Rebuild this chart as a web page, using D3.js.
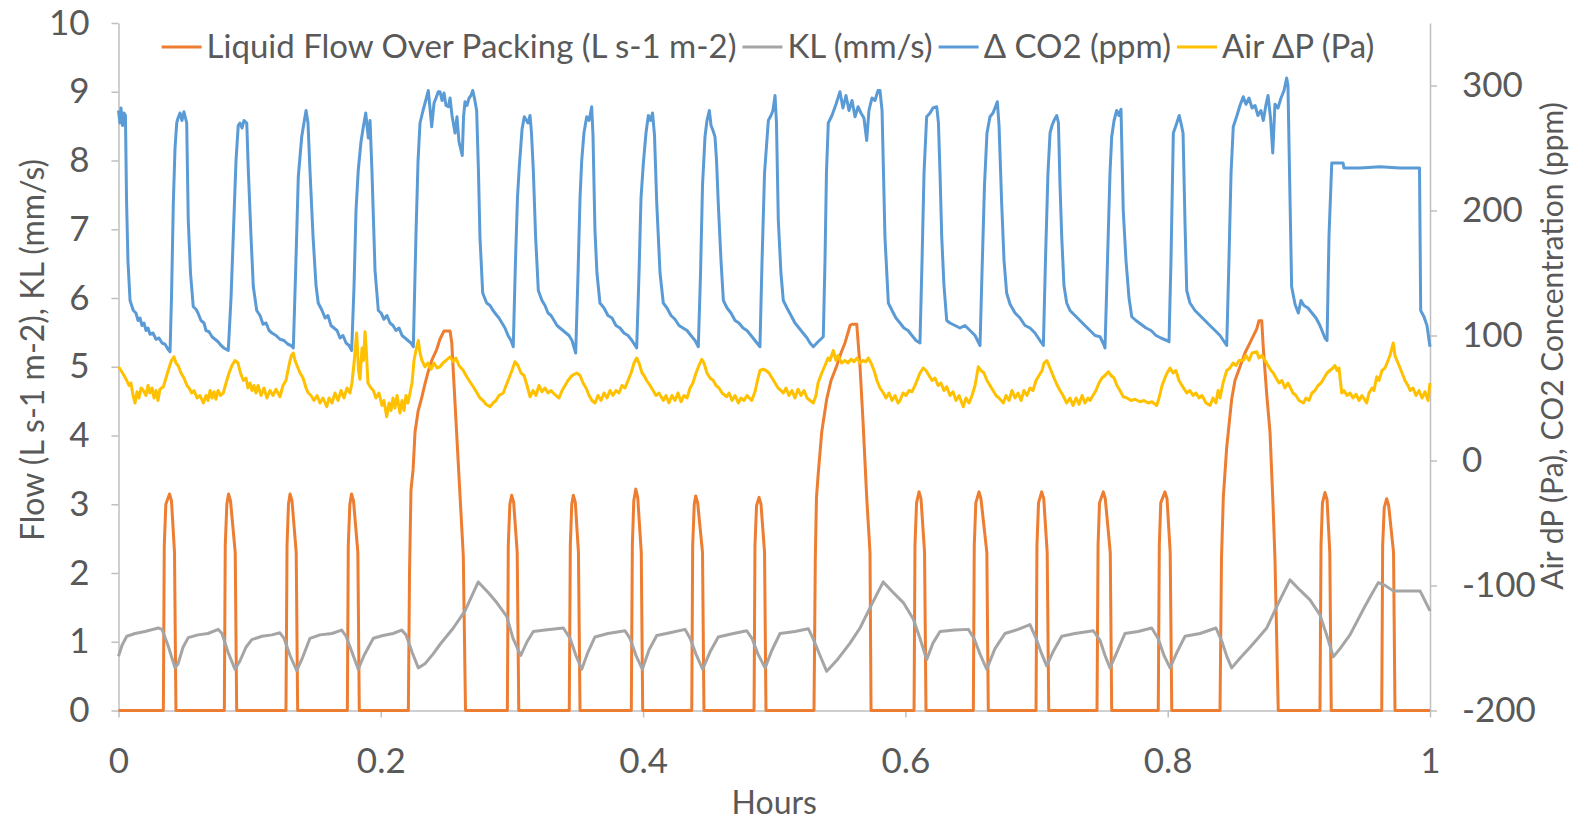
<!DOCTYPE html>
<html>
<head>
<meta charset="utf-8">
<script src="https://cdn.jsdelivr.net/npm/d3@7"></script>
<style>
    body { margin: 0; background: #fff; }
    svg text { font-family: Lato, "Open Sans", sans-serif; fill: #595959; }
</style>
</head>
<body>
<svg id="chart" width="1573" height="823"></svg>
<script>
//series names (legend order)
var seriesNames = ['Liquid Flow Over Packing (L s-1 m-2)', 'KL (mm/s)',
    '\u0394 CO2 (ppm)', 'Air \u0394P (Pa)'];

//ticks
var xTicks = [0, 0.2, 0.4, 0.6, 0.8, 1];
var leftTicks = [0, 1, 2, 3, 4, 5, 6, 7, 8, 9, 10];
var rightTicks = [-200, -100, 0, 100, 200, 300];

//liquid flow over packing, [hours, L s-1 m-2]
var flowData = [
    [0, 0],
    [0.0342, 0], [0.0349, 2.4], [0.0361, 3.0], [0.0389, 3.15], [0.0404, 3.05], [0.0427, 2.3], [0.0438, 0],
    [0.0807, 0], [0.0814, 2.4], [0.0826, 3.0], [0.0839, 3.15], [0.0854, 3.05], [0.0890, 2.3], [0.0901, 0],
    [0.1277, 0], [0.1285, 2.4], [0.1296, 3.0], [0.1308, 3.15], [0.1323, 3.05], [0.1355, 2.3], [0.1366, 0],
    [0.1745, 0], [0.1752, 2.4], [0.1764, 3.0], [0.1777, 3.15], [0.1792, 3.05], [0.1825, 2.3], [0.1836, 0],
    [0.2210, 0], [0.2219, 2.0], [0.2230, 3.2], [0.2246, 3.5], [0.2261, 4.05], [0.2284, 4.35], [0.2312, 4.55],
    [0.2337, 4.75], [0.2360, 4.92], [0.2390, 5.1], [0.2426, 5.25], [0.2451, 5.4], [0.2482, 5.52],
    [0.2528, 5.52], [0.2541, 5.35], [0.2629, 2.25], [0.2646, 0],
    [0.2965, 0], [0.2972, 2.4], [0.2984, 3.0], [0.2998, 3.13], [0.3013, 3.03], [0.3040, 2.3], [0.3052, 0],
    [0.3437, 0], [0.3445, 2.4], [0.3456, 3.0], [0.3468, 3.13], [0.3483, 3.03], [0.3507, 2.3], [0.3519, 0],
    [0.3910, 0], [0.3918, 2.4], [0.3929, 3.05], [0.3944, 3.22], [0.3959, 3.1], [0.3986, 2.3], [0.3997, 0],
    [0.4371, 0], [0.4378, 2.4], [0.4390, 3.0], [0.4401, 3.12], [0.4416, 3.02], [0.4453, 2.3], [0.4464, 0],
    [0.4846, 0], [0.4853, 2.4], [0.4865, 2.98], [0.4884, 3.10], [0.4899, 3.0], [0.4926, 2.3], [0.4937, 0],
    [0.5303, 0], [0.5313, 2.2], [0.5322, 3.1], [0.5336, 3.46], [0.5362, 4.05], [0.5400, 4.53], [0.5433, 4.8],
    [0.5476, 5.01], [0.5509, 5.2], [0.5540, 5.35], [0.5578, 5.6], [0.5593, 5.62], [0.5629, 5.62],
    [0.5654, 5.0], [0.5677, 4.2], [0.5705, 3.1], [0.5730, 2.3], [0.5738, 0],
    [0.6066, 0], [0.6073, 2.4], [0.6085, 3.02], [0.6104, 3.18], [0.6119, 3.08], [0.6146, 2.3], [0.6157, 0],
    [0.6518, 0], [0.6525, 2.4], [0.6537, 3.02], [0.6561, 3.18], [0.6576, 3.08], [0.6621, 2.3], [0.6632, 0],
    [0.6996, 0], [0.7003, 2.4], [0.7015, 3.02], [0.7039, 3.18], [0.7055, 3.08], [0.7081, 2.3], [0.7093, 0],
    [0.7461, 0], [0.7469, 2.4], [0.7480, 3.02], [0.7509, 3.18], [0.7524, 3.08], [0.7562, 2.3], [0.7573, 0],
    [0.7928, 0], [0.7936, 2.4], [0.7947, 3.02], [0.7979, 3.18], [0.7995, 3.08], [0.8019, 2.3], [0.8031, 0],
    [0.8399, 0], [0.8410, 2.2], [0.8424, 3.1], [0.8450, 3.83], [0.8488, 4.53], [0.8513, 4.8], [0.8551, 5.0],
    [0.8589, 5.2], [0.8628, 5.35], [0.8679, 5.55], [0.8696, 5.67], [0.8717, 5.67], [0.8729, 5.27],
    [0.8755, 4.6], [0.8780, 4.05], [0.8803, 3.0], [0.8818, 2.2], [0.8843, 0],
    [0.9161, 0], [0.9169, 2.4], [0.9180, 3.02], [0.9199, 3.17], [0.9215, 3.07], [0.9236, 2.3], [0.9247, 0],
    [0.9632, 0], [0.9639, 2.4], [0.9651, 2.95], [0.9670, 3.08], [0.9685, 2.98], [0.9722, 2.3], [0.9733, 0],
    [1, 0]
];

//KL, [hours, mm/s]
var klData = [
    [0, 0.79], [0.0027, 0.95], [0.0063, 1.08], [0.0126, 1.12], [0.0202, 1.15], [0.0303, 1.2], [0.0332, 1.18],
    [0.0377, 0.95], [0.0431, 0.62], [0.0454, 0.68], [0.0492, 0.92], [0.0532, 1.06], [0.0606, 1.1],
    [0.0682, 1.12], [0.0761, 1.18], [0.0789, 1.12], [0.0835, 0.85], [0.0888, 0.6], [0.0926, 0.72],
    [0.0972, 0.92], [0.1016, 1.03], [0.1094, 1.08], [0.1170, 1.1], [0.1231, 1.13], [0.1262, 1.05],
    [0.1308, 0.8], [0.1359, 0.58], [0.1399, 0.75], [0.1460, 1.05], [0.1536, 1.1], [0.1628, 1.12],
    [0.1702, 1.17], [0.1735, 1.08], [0.1780, 0.85], [0.1828, 0.6], [0.1872, 0.8], [0.1943, 1.05],
    [0.2017, 1.09], [0.2093, 1.12], [0.2159, 1.17], [0.2192, 1.1], [0.2238, 0.85], [0.2286, 0.62],
    [0.2337, 0.68], [0.2398, 0.82], [0.2451, 0.96], [0.2553, 1.2], [0.2642, 1.45], [0.2743, 1.87],
    [0.2817, 1.72], [0.2884, 1.57], [0.2960, 1.37], [0.3008, 1.05], [0.3067, 0.8], [0.3115, 1.0],
    [0.3163, 1.15], [0.3252, 1.17], [0.3392, 1.2], [0.3443, 1.05], [0.3488, 0.8], [0.3532, 0.6],
    [0.3580, 0.85], [0.3633, 1.07], [0.3732, 1.12], [0.3862, 1.16], [0.3900, 1.05], [0.3946, 0.8],
    [0.3994, 0.6], [0.4045, 0.88], [0.4104, 1.09], [0.4205, 1.13], [0.4320, 1.18], [0.4358, 1.05],
    [0.4403, 0.82], [0.4454, 0.6], [0.4510, 0.85], [0.4573, 1.07], [0.4663, 1.11], [0.4790, 1.16],
    [0.4830, 1.05], [0.4876, 0.82], [0.4930, 0.62], [0.4983, 0.88], [0.5044, 1.12], [0.5158, 1.15],
    [0.5260, 1.19], [0.5295, 1.05], [0.5349, 0.8], [0.5400, 0.57], [0.5486, 0.75], [0.5578, 0.98],
    [0.5654, 1.2], [0.5745, 1.55], [0.5831, 1.87], [0.5905, 1.72], [0.5984, 1.57], [0.6060, 1.33],
    [0.6111, 1.05], [0.6162, 0.74], [0.6210, 0.98], [0.6264, 1.15], [0.6378, 1.17], [0.6480, 1.18],
    [0.6523, 1.05], [0.6569, 0.82], [0.6620, 0.6], [0.6683, 0.9], [0.6759, 1.12], [0.6859, 1.18],
    [0.6950, 1.25], [0.6996, 1.05], [0.7034, 0.85], [0.7077, 0.65], [0.7125, 0.85], [0.7192, 1.08],
    [0.7293, 1.12], [0.7433, 1.16], [0.7484, 1.02], [0.7522, 0.8], [0.7560, 0.62], [0.7613, 0.85],
    [0.7674, 1.12], [0.7774, 1.15], [0.7878, 1.2], [0.7926, 1.05], [0.7972, 0.8], [0.8018, 0.62],
    [0.8071, 0.85], [0.8132, 1.08], [0.8246, 1.12], [0.8368, 1.2], [0.8414, 1.0], [0.8452, 0.78],
    [0.8488, 0.62], [0.8551, 0.76], [0.8628, 0.92], [0.8688, 1.05], [0.8755, 1.2], [0.8841, 1.55],
    [0.8932, 1.9], [0.9009, 1.75], [0.9085, 1.61], [0.9161, 1.39], [0.9215, 1.08], [0.9263, 0.78],
    [0.9314, 0.9], [0.9390, 1.1], [0.9491, 1.47], [0.9543, 1.65], [0.9606, 1.86], [0.9657, 1.82],
    [0.9720, 1.74], [0.9809, 1.74], [0.9924, 1.74], [1, 1.45]
];

//delta CO2, [hours, ppm]
var co2Data = [
    [0, 280], [0.0011, 270], [0.0019, 282], [0.0031, 268], [0.0042, 278], [0.0053, 276], [0.0061, 210],
    [0.0072, 160], [0.0088, 128], [0.0113, 120], [0.0133, 118], [0.0149, 112], [0.0164, 114], [0.0179, 108],
    [0.0194, 110], [0.0210, 104], [0.0225, 106], [0.0240, 101], [0.0263, 102], [0.0286, 97], [0.0309, 98],
    [0.0332, 94], [0.0355, 93], [0.0377, 89], [0.0393, 87],
    [0.0404, 130], [0.0418, 206], [0.0431, 250], [0.0444, 270], [0.0454, 274], [0.0469, 278], [0.0484, 272],
    [0.0499, 279], [0.0520, 270], [0.0532, 192], [0.0549, 150], [0.0570, 123], [0.0591, 121], [0.0606, 118],
    [0.0629, 112], [0.0652, 110], [0.0667, 104], [0.0690, 103], [0.0713, 99], [0.0736, 97], [0.0759, 95],
    [0.0782, 92], [0.0804, 90], [0.0837, 88],
    [0.0858, 130], [0.0875, 179], [0.0896, 240], [0.0913, 268], [0.0926, 270], [0.0942, 266], [0.0957, 272],
    [0.0978, 270], [0.0990, 232], [0.1010, 180], [0.1028, 139], [0.1054, 120], [0.1079, 116], [0.1102, 109],
    [0.1125, 110], [0.1148, 104], [0.1170, 102], [0.1201, 100], [0.1231, 97], [0.1262, 96], [0.1292, 93],
    [0.1315, 92], [0.1333, 90],
    [0.1353, 160], [0.1371, 227], [0.1397, 259], [0.1414, 270], [0.1430, 280], [0.1445, 270], [0.1460, 232],
    [0.1483, 180], [0.1506, 140], [0.1523, 126], [0.1552, 120], [0.1575, 114], [0.1597, 116], [0.1620, 108],
    [0.1643, 106], [0.1666, 104], [0.1689, 98], [0.1712, 100], [0.1735, 94], [0.1758, 92], [0.1778, 88],
    [0.1796, 140], [0.1811, 200], [0.1828, 232], [0.1849, 255], [0.1867, 267], [0.1885, 278], [0.1895, 268],
    [0.1905, 258], [0.1918, 272], [0.1933, 230], [0.1956, 152], [0.1981, 120], [0.2002, 118], [0.2024, 113],
    [0.2047, 116], [0.2070, 110], [0.2093, 108], [0.2116, 104], [0.2139, 106], [0.2162, 100], [0.2185, 98],
    [0.2207, 96], [0.2230, 94], [0.2248, 91],
    [0.2268, 180], [0.2284, 240], [0.2299, 270], [0.2322, 280], [0.2345, 289], [0.2362, 296], [0.2375, 282],
    [0.2388, 267], [0.2406, 286], [0.2421, 290], [0.2438, 295], [0.2451, 295], [0.2467, 288], [0.2482, 294],
    [0.2497, 284], [0.2515, 283], [0.2528, 290], [0.2543, 276], [0.2566, 262], [0.2581, 275], [0.2596, 255],
    [0.2621, 244], [0.2631, 275], [0.2642, 287], [0.2657, 284], [0.2673, 290], [0.2688, 292], [0.2701, 296],
    [0.2714, 290], [0.2731, 280], [0.2745, 230], [0.2756, 179], [0.2777, 134], [0.2807, 126], [0.2833, 124],
    [0.2856, 120], [0.2878, 117], [0.2901, 114], [0.2924, 110], [0.2947, 106], [0.2970, 100], [0.2993, 96],
    [0.3010, 91],
    [0.3027, 160], [0.3042, 210], [0.3056, 235], [0.3077, 265], [0.3094, 275], [0.3111, 272], [0.3122, 270],
    [0.3138, 276], [0.3149, 262], [0.3163, 232], [0.3180, 180], [0.3201, 136], [0.3229, 128], [0.3252, 124],
    [0.3275, 118], [0.3298, 116], [0.3321, 112], [0.3344, 108], [0.3366, 106], [0.3389, 104], [0.3412, 102],
    [0.3435, 100], [0.3458, 96], [0.3486, 86],
    [0.3504, 150], [0.3519, 210], [0.3532, 240], [0.3549, 262], [0.3570, 275], [0.3588, 272], [0.3608, 283],
    [0.3618, 260], [0.3633, 184], [0.3648, 150], [0.3671, 126], [0.3702, 122], [0.3732, 116], [0.3763, 114],
    [0.3793, 108], [0.3824, 106], [0.3854, 102], [0.3885, 100], [0.3915, 96], [0.3951, 90],
    [0.3969, 150], [0.3984, 210], [0.4002, 238], [0.4022, 262], [0.4040, 276], [0.4056, 272], [0.4072, 278],
    [0.4087, 260], [0.4104, 206], [0.4129, 150], [0.4154, 126], [0.4182, 122], [0.4213, 116], [0.4243, 113],
    [0.4274, 108], [0.4304, 106], [0.4335, 104], [0.4365, 100], [0.4396, 96], [0.4421, 91],
    [0.4438, 150], [0.4453, 220], [0.4472, 259], [0.4487, 272], [0.4505, 280], [0.4518, 268], [0.4533, 264],
    [0.4548, 259], [0.4560, 240], [0.4573, 206], [0.4594, 160], [0.4612, 128], [0.4640, 122], [0.4670, 118],
    [0.4701, 112], [0.4731, 110], [0.4762, 106], [0.4792, 104], [0.4823, 100], [0.4853, 96], [0.4891, 91],
    [0.4907, 160], [0.4926, 230], [0.4955, 272], [0.4975, 276], [0.4990, 280], [0.5006, 292], [0.5017, 270],
    [0.5031, 192], [0.5051, 150], [0.5069, 128], [0.5097, 122], [0.5128, 116], [0.5158, 110], [0.5189, 106],
    [0.5219, 102], [0.5250, 98], [0.5273, 94], [0.5298, 91], [0.5334, 95], [0.5374, 99],
    [0.5387, 160], [0.5398, 230], [0.5412, 270], [0.5440, 276], [0.5471, 285], [0.5501, 295], [0.5524, 282],
    [0.5547, 292], [0.5570, 280], [0.5593, 288], [0.5616, 275], [0.5639, 283], [0.5661, 278], [0.5684, 274],
    [0.5705, 256], [0.5722, 280], [0.5745, 290], [0.5768, 288], [0.5791, 296], [0.5806, 296], [0.5822, 280],
    [0.5833, 230], [0.5844, 179], [0.5870, 126], [0.5898, 120], [0.5928, 114], [0.5959, 110], [0.5989, 106],
    [0.6020, 104], [0.6050, 100], [0.6081, 96], [0.6111, 94],
    [0.6127, 160], [0.6142, 230], [0.6162, 275], [0.6188, 278], [0.6210, 282], [0.6239, 283], [0.6252, 270],
    [0.6264, 230], [0.6277, 179], [0.6294, 140], [0.6315, 112], [0.6340, 110], [0.6378, 108], [0.6416, 106],
    [0.6454, 108], [0.6493, 104], [0.6531, 100], [0.6569, 92],
    [0.6584, 150], [0.6603, 220], [0.6622, 262], [0.6645, 275], [0.6668, 278], [0.6683, 282], [0.6701, 287],
    [0.6714, 268], [0.6734, 206], [0.6752, 160], [0.6772, 134], [0.6798, 125], [0.6836, 118], [0.6874, 114],
    [0.6912, 108], [0.6950, 106], [0.6988, 102], [0.7026, 96], [0.7052, 92],
    [0.7068, 160], [0.7087, 230], [0.7103, 262], [0.7118, 268], [0.7133, 272], [0.7154, 276], [0.7167, 270],
    [0.7179, 220], [0.7192, 179], [0.7209, 140], [0.7230, 126], [0.7255, 120], [0.7293, 116], [0.7331, 112],
    [0.7369, 108], [0.7408, 104], [0.7446, 100], [0.7484, 99], [0.7507, 94], [0.7522, 90],
    [0.7541, 160], [0.7560, 230], [0.7573, 259], [0.7591, 272], [0.7611, 280], [0.7629, 276], [0.7644, 281],
    [0.7661, 200], [0.7682, 160], [0.7705, 130], [0.7726, 115], [0.7758, 112], [0.7796, 109], [0.7835, 106],
    [0.7873, 104], [0.7911, 100], [0.7949, 98], [0.7993, 96], [0.8010, 95],
    [0.8025, 160], [0.8043, 262], [0.8063, 268], [0.8088, 276], [0.8101, 270], [0.8117, 262], [0.8132, 190],
    [0.8145, 136], [0.8170, 126], [0.8208, 120], [0.8246, 116], [0.8284, 112], [0.8322, 108], [0.8361, 104],
    [0.8399, 100], [0.8450, 92],
    [0.8467, 160], [0.8483, 230], [0.8500, 267], [0.8528, 276], [0.8551, 284], [0.8576, 291], [0.8597, 285],
    [0.8620, 290], [0.8643, 282], [0.8666, 284], [0.8688, 276], [0.8711, 280], [0.8729, 272], [0.8750, 285],
    [0.8765, 292], [0.8784, 274], [0.8801, 246], [0.8818, 285], [0.8841, 282], [0.8864, 290], [0.8887, 296],
    [0.8907, 306], [0.8917, 300], [0.8929, 230], [0.8945, 139], [0.8971, 125], [0.8996, 118], [0.9016, 128],
    [0.9039, 124], [0.9070, 122], [0.9100, 118], [0.9131, 114], [0.9161, 108], [0.9199, 98], [0.9215, 96],
    [0.9230, 180], [0.9251, 238], [0.9337, 238], [0.9344, 234], [0.9466, 234], [0.9619, 235], [0.9771, 234],
    [0.9920, 234], [0.9929, 120], [0.9954, 115], [0.9977, 108], [1, 91]
];

//air pressure drop, [hours, Pa]
var airDpData = [
    [0, 75], [0.0019, 72], [0.0042, 68], [0.0063, 64], [0.0080, 60], [0.0095, 62], [0.0111, 52], [0.0126, 46],
    [0.0141, 55], [0.0156, 50], [0.0172, 58], [0.0189, 56], [0.0210, 52], [0.0225, 60], [0.0240, 54],
    [0.0255, 58], [0.0271, 50], [0.0286, 56], [0.0301, 48], [0.0316, 57], [0.0342, 59], [0.0362, 66],
    [0.0385, 74], [0.0404, 80], [0.0423, 83], [0.0438, 78], [0.0454, 76], [0.0477, 70], [0.0499, 66],
    [0.0522, 60], [0.0538, 58], [0.0558, 54], [0.0576, 56], [0.0599, 50], [0.0621, 52], [0.0647, 46],
    [0.0667, 52], [0.0682, 48], [0.0698, 56], [0.0713, 50], [0.0728, 55], [0.0743, 49], [0.0759, 56],
    [0.0778, 52], [0.0799, 54], [0.0820, 62], [0.0843, 70], [0.0865, 76], [0.0888, 80], [0.0911, 78],
    [0.0930, 70], [0.0952, 64], [0.0972, 66], [0.0987, 58], [0.1003, 62], [0.1018, 56], [0.1033, 60],
    [0.1048, 54], [0.1064, 60], [0.1087, 52], [0.1109, 58], [0.1132, 50], [0.1155, 56], [0.1178, 52],
    [0.1201, 57], [0.1231, 51], [0.1254, 60], [0.1277, 64], [0.1292, 72], [0.1308, 80], [0.1319, 84],
    [0.1333, 86], [0.1346, 80], [0.1361, 76], [0.1384, 70], [0.1407, 66], [0.1430, 58], [0.1447, 54],
    [0.1468, 52], [0.1491, 48], [0.1514, 52], [0.1536, 46], [0.1559, 50], [0.1588, 43], [0.1605, 50],
    [0.1628, 46], [0.1651, 54], [0.1674, 48], [0.1697, 56], [0.1719, 50], [0.1742, 58], [0.1765, 54],
    [0.1780, 62], [0.1796, 78], [0.1816, 102], [0.1830, 72], [0.1841, 65], [0.1857, 90], [0.1868, 80],
    [0.1880, 103], [0.1891, 85], [0.1902, 62], [0.1925, 58], [0.1943, 56], [0.1963, 50], [0.1986, 54],
    [0.2009, 44], [0.2024, 48], [0.2045, 35], [0.2063, 46], [0.2078, 40], [0.2093, 50], [0.2108, 42],
    [0.2124, 52], [0.2146, 38], [0.2162, 48], [0.2177, 40], [0.2192, 52], [0.2207, 46], [0.2223, 54],
    [0.2238, 62], [0.2253, 80], [0.2268, 88], [0.2286, 96], [0.2299, 86], [0.2314, 80], [0.2337, 75],
    [0.2360, 78], [0.2383, 73], [0.2406, 78], [0.2429, 74], [0.2451, 75], [0.2474, 78], [0.2497, 80],
    [0.2528, 83], [0.2551, 79], [0.2573, 82], [0.2596, 76], [0.2629, 72], [0.2650, 68], [0.2673, 64],
    [0.2705, 59], [0.2734, 54], [0.2756, 50], [0.2779, 48], [0.2802, 45], [0.2833, 43], [0.2856, 46],
    [0.2878, 48], [0.2901, 52], [0.2934, 54], [0.2955, 60], [0.2978, 66], [0.3000, 72], [0.3023, 79],
    [0.3046, 76], [0.3069, 70], [0.3092, 68], [0.3115, 60], [0.3138, 51], [0.3161, 56], [0.3183, 52],
    [0.3206, 60], [0.3229, 55], [0.3252, 58], [0.3275, 54], [0.3298, 56], [0.3315, 54], [0.3336, 52],
    [0.3359, 50], [0.3382, 56], [0.3405, 60], [0.3427, 64], [0.3458, 68], [0.3494, 70], [0.3519, 68],
    [0.3542, 62], [0.3565, 58], [0.3588, 52], [0.3610, 48], [0.3633, 46], [0.3656, 52], [0.3679, 48],
    [0.3702, 54], [0.3725, 50], [0.3748, 56], [0.3770, 52], [0.3793, 56], [0.3816, 54], [0.3839, 60],
    [0.3862, 58], [0.3885, 64], [0.3908, 70], [0.3931, 78], [0.3951, 82], [0.3969, 78], [0.3992, 70],
    [0.4007, 68], [0.4027, 64], [0.4053, 60], [0.4076, 56], [0.4098, 52], [0.4121, 54], [0.4154, 48],
    [0.4175, 52], [0.4197, 46], [0.4220, 52], [0.4243, 48], [0.4266, 54], [0.4289, 47], [0.4312, 52],
    [0.4335, 50], [0.4358, 58], [0.4380, 62], [0.4403, 70], [0.4426, 76], [0.4447, 81], [0.4464, 78],
    [0.4487, 70], [0.4510, 66], [0.4535, 64], [0.4556, 60], [0.4579, 58], [0.4602, 54], [0.4637, 51],
    [0.4655, 54], [0.4678, 48], [0.4701, 52], [0.4726, 46], [0.4746, 50], [0.4769, 48], [0.4792, 52],
    [0.4828, 48], [0.4853, 55], [0.4872, 64], [0.4891, 72], [0.4914, 73], [0.4937, 72], [0.4960, 70],
    [0.4983, 66], [0.5006, 62], [0.5029, 58], [0.5051, 56], [0.5069, 54], [0.5090, 58], [0.5112, 52],
    [0.5135, 56], [0.5158, 50], [0.5181, 57], [0.5204, 52], [0.5227, 56], [0.5250, 50], [0.5273, 48],
    [0.5298, 46], [0.5318, 52], [0.5334, 62], [0.5362, 70], [0.5387, 76], [0.5410, 82], [0.5425, 80],
    [0.5450, 88], [0.5471, 80], [0.5486, 84], [0.5514, 78], [0.5539, 80], [0.5562, 78], [0.5585, 81],
    [0.5608, 79], [0.5631, 82], [0.5654, 78], [0.5677, 80], [0.5700, 79], [0.5717, 82], [0.5738, 78],
    [0.5761, 72], [0.5783, 64], [0.5806, 58], [0.5832, 54], [0.5852, 50], [0.5875, 54], [0.5898, 48],
    [0.5921, 52], [0.5944, 46], [0.5959, 48], [0.5982, 54], [0.6005, 52], [0.6027, 56], [0.6050, 55],
    [0.6073, 60], [0.6096, 66], [0.6111, 70], [0.6136, 74], [0.6157, 72], [0.6180, 68], [0.6203, 64],
    [0.6226, 66], [0.6249, 60], [0.6271, 62], [0.6294, 56], [0.6315, 59], [0.6340, 52], [0.6363, 55],
    [0.6386, 48], [0.6409, 52], [0.6441, 43], [0.6462, 50], [0.6485, 46], [0.6508, 52], [0.6531, 60],
    [0.6556, 75], [0.6576, 72], [0.6599, 70], [0.6622, 64], [0.6645, 60], [0.6668, 56], [0.6691, 52],
    [0.6714, 50], [0.6747, 46], [0.6767, 52], [0.6790, 48], [0.6813, 56], [0.6836, 50], [0.6859, 54],
    [0.6882, 48], [0.6904, 56], [0.6927, 52], [0.6950, 58], [0.6973, 56], [0.6996, 64], [0.7019, 68],
    [0.7042, 72], [0.7057, 78], [0.7077, 80], [0.7095, 76], [0.7118, 70], [0.7133, 66], [0.7154, 61],
    [0.7179, 56], [0.7202, 52], [0.7230, 46], [0.7255, 50], [0.7278, 44], [0.7301, 50], [0.7324, 45],
    [0.7347, 52], [0.7369, 46], [0.7392, 50], [0.7408, 48], [0.7430, 52], [0.7453, 56], [0.7476, 62],
    [0.7499, 66], [0.7522, 68], [0.7547, 71], [0.7568, 68], [0.7591, 66], [0.7613, 60], [0.7636, 56],
    [0.7661, 51], [0.7690, 50], [0.7720, 48], [0.7751, 49], [0.7789, 47], [0.7819, 48], [0.7850, 46],
    [0.7880, 47], [0.7916, 44], [0.7934, 50], [0.7957, 60], [0.7979, 66], [0.7995, 70], [0.8018, 74],
    [0.8040, 70], [0.8063, 72], [0.8086, 64], [0.8109, 60], [0.8145, 54], [0.8170, 56], [0.8193, 52],
    [0.8216, 54], [0.8239, 50], [0.8262, 52], [0.8292, 46], [0.8323, 44], [0.8345, 50], [0.8368, 46],
    [0.8384, 56], [0.8399, 50], [0.8422, 62], [0.8450, 72], [0.8475, 74], [0.8498, 78], [0.8521, 76],
    [0.8544, 80], [0.8576, 80], [0.8597, 84], [0.8620, 80], [0.8643, 86], [0.8679, 87], [0.8696, 82],
    [0.8719, 84], [0.8742, 80], [0.8765, 76], [0.8788, 72], [0.8805, 70], [0.8826, 66], [0.8849, 62],
    [0.8871, 64], [0.8894, 58], [0.8917, 62], [0.8932, 59], [0.8955, 54], [0.8978, 52], [0.9001, 48],
    [0.9034, 46], [0.9055, 50], [0.9077, 48], [0.9100, 54], [0.9123, 56], [0.9146, 60], [0.9169, 62],
    [0.9192, 66], [0.9215, 70], [0.9237, 72], [0.9260, 74], [0.9275, 76], [0.9291, 72], [0.9306, 74],
    [0.9327, 54], [0.9344, 56], [0.9367, 52], [0.9390, 54], [0.9413, 50], [0.9436, 53], [0.9459, 48],
    [0.9481, 52], [0.9517, 46], [0.9535, 54], [0.9558, 58], [0.9573, 56], [0.9594, 67], [0.9611, 64],
    [0.9634, 72], [0.9657, 74], [0.9680, 80], [0.9695, 84], [0.9720, 94], [0.9733, 84], [0.9748, 80],
    [0.9764, 76], [0.9787, 70], [0.9809, 64], [0.9832, 60], [0.9848, 56], [0.9870, 58], [0.9893, 52],
    [0.9916, 56], [0.9939, 50], [0.9962, 55], [0.9985, 48], [1, 62]
];

//colors
var colors = { flow: '#ED7D31', kl: '#A5A5A5', co2: '#5B9BD5', air: '#FFC000' };
var axisColor = '#bfbfbf';

//layout
var M = { left: 118.5, right: 1430, top: 23, bottom: 710.5 };
var svg = d3.select('#chart');

var x = d3.scaleLinear().domain([0, 1]).range([M.left, M.right]);
var yL = d3.scaleLinear().domain([0, 10]).range([M.bottom, M.top]);
var yR = d3.scaleLinear().domain([-200, 350]).range([M.bottom, M.top]);

function styleAxis(g) {
    g.attr('font-family', null).attr('font-size', null);
    g.select('.domain').attr('stroke', axisColor).attr('stroke-width', 1.5);
    g.selectAll('.tick line').attr('stroke', axisColor).attr('stroke-width', 1.5);
    g.selectAll('.tick text').style('font-size', '35px').attr('fill', '#595959');
}

//axes
svg.append('g')
    .attr('transform', 'translate(' + M.left + ',0)')
    .call(d3.axisLeft(yL).tickValues(leftTicks).tickSize(7).tickSizeOuter(0)
        .tickPadding(22).tickFormat(function (d) { return d; }))
    .call(styleAxis);

svg.append('g')
    .attr('transform', 'translate(' + M.right + ',0)')
    .call(d3.axisRight(yR).tickValues(rightTicks).tickSize(7).tickSizeOuter(0)
        .tickPadding(25).tickFormat(function (d) { return String(d); }))
    .call(styleAxis);

var xAxis = svg.append('g')
    .attr('transform', 'translate(0,' + M.bottom + ')')
    .call(d3.axisBottom(x).tickValues(xTicks).tickSize(7).tickSizeOuter(0)
        .tickFormat(function (d) { return d; }))
    .call(styleAxis);
xAxis.selectAll('.tick text').attr('dy', null).attr('y', 62);

//axis titles
svg.append('text')
    .attr('transform', 'translate(44,350) rotate(-90)')
    .attr('text-anchor', 'middle')
    .style('font-size', '32px')
    .text('Flow (L s-1 m-2), KL (mm/s)');

svg.append('text')
    .attr('transform', 'translate(1563,346) rotate(-90)')
    .attr('text-anchor', 'middle')
    .style('font-size', '30px')
    .text('Air dP (Pa), CO2 Concentration (ppm)');

svg.append('text')
    .attr('x', x(0.5)).attr('y', 814)
    .attr('text-anchor', 'middle')
    .style('font-size', '32px')
    .text('Hours');

//series
var lineL = d3.line().x(function (d) { return x(d[0]); }).y(function (d) { return yL(d[1]); });
var lineR = d3.line().x(function (d) { return x(d[0]); }).y(function (d) { return yR(d[1]); });

var series = [
    { data: flowData, line: lineL, color: colors.flow },
    { data: klData, line: lineL, color: colors.kl },
    { data: co2Data, line: lineR, color: colors.co2 },
    { data: airDpData, line: lineR, color: colors.air }
];

svg.append('g').selectAll('path')
    .data(series)
    .enter().append('path')
    .attr('d', function (s) { return s.line(s.data); })
    .attr('fill', 'none')
    .attr('stroke', function (s) { return s.color; })
    .attr('stroke-width', 3)
    .attr('stroke-linejoin', 'round');

//legend, laid out from measured text widths
var legend = svg.append('g');
var legendColors = [colors.flow, colors.kl, colors.co2, colors.air];
var sampleLen = 40, cx = 0, legendY = 47;
seriesNames.forEach(function (name, i) {
    legend.append('line')
        .attr('x1', cx).attr('x2', cx + sampleLen)
        .attr('y1', legendY).attr('y2', legendY)
        .attr('stroke', legendColors[i]).attr('stroke-width', 3);
    var t = legend.append('text')
        .attr('x', cx + sampleLen + 5).attr('y', legendY + 11)
        .style('font-size', '33px')
        .text(name);
    cx += sampleLen + 5 + t.node().getComputedTextLength() + 6;
});
legend.attr('transform', 'translate(' + (771 - cx / 2) + ',0)');
</script>
</body>
</html>
